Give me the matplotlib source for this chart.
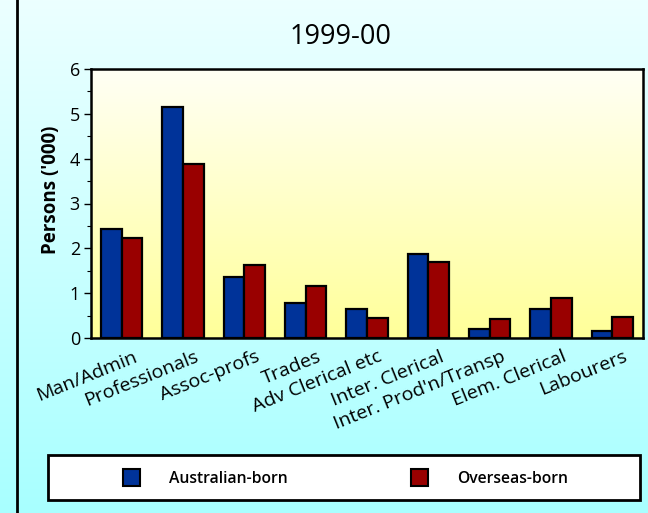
#!/usr/bin/env python3
import numpy as np
import matplotlib
matplotlib.use("Agg")
import matplotlib.pyplot as plt
from matplotlib.lines import Line2D
from matplotlib.patches import Rectangle
from matplotlib.colors import LinearSegmentedColormap
from matplotlib.transforms import ScaledTranslation

# occupation groups and persons ('000), 1999-00
categories = ["Man/Admin", "Professionals", "Assoc-profs", "Trades",
              "Adv Clerical etc", "Inter. Clerical", "Inter. Prod'n/Transp",
              "Elem. Clerical", "Labourers"]
australian_born = [2.44, 5.15, 1.35, 0.77, 0.64, 1.88, 0.20, 0.64, 0.16]
overseas_born = [2.23, 3.89, 1.62, 1.15, 0.45, 1.70, 0.42, 0.89, 0.46]
series_names = ["Australian-born", "Overseas-born"]
y_ticks = [0, 1, 2, 3, 4, 5, 6]

BLUE = "#003399"
RED = "#990000"

plt.rcParams["font.family"] = ["Open Sans", "DejaVu Sans"]


def gradient(ax, top, bottom, extent=None, zorder=0):
    """vertical colour gradient from top colour to bottom colour"""
    cmap = LinearSegmentedColormap.from_list("g", [bottom, top])
    grad = np.linspace(0, 1, 256).reshape(-1, 1)
    ax.imshow(grad, cmap=cmap, origin="lower", aspect="auto",
              extent=extent, zorder=zorder, interpolation="bilinear")


def main():
    fig = plt.figure(figsize=(6.48, 5.13), dpi=100)

    # figure background
    bg = fig.add_axes([0, 0, 1, 1], zorder=-10)
    gradient(bg, "#ecffff", "#a8ffff", extent=(0, 1, 0, 1))
    bg.set_xlim(0, 1)
    bg.set_ylim(0, 1)
    bg.axis("off")
    bg.add_line(Line2D([17 / 648, 17 / 648], [0, 1], color="black", lw=2))

    ax = fig.add_axes([91 / 648, 1 - 338 / 513, 552 / 648, 269 / 513])
    ax.set_facecolor("none")
    n = len(categories)
    x = np.arange(n)
    w = 0.335

    gradient(ax, "#fffff5", "#ffff99", extent=(-0.5, n - 0.5, 0, 6), zorder=0)

    ax.bar(x - w / 2, australian_born, w, color=BLUE, edgecolor="black",
           linewidth=1.6, zorder=2, label=series_names[0])
    ax.bar(x + w / 2, overseas_born, w, color=RED, edgecolor="black",
           linewidth=1.6, zorder=2, label=series_names[1])

    ax.set_xlim(-0.5, n - 0.5)
    ax.set_ylim(0, 6)
    ax.set_yticks(y_ticks)
    ax.set_yticks(np.arange(0.5, 6, 1), minor=True)
    ax.tick_params(axis="y", which="major", length=5, width=1,
                   labelsize=13, pad=3)
    ax.tick_params(axis="y", which="minor", length=3, width=0.8)
    ax.set_xticks(x)
    ax.set_xticklabels(categories, rotation=22, ha="right",
                       rotation_mode="anchor", fontsize=14)
    ax.tick_params(axis="x", length=0, pad=7)
    shift = ScaledTranslation(11 / 100, 0, fig.dpi_scale_trans)
    for lab in ax.get_xticklabels():
        lab.set_transform(lab.get_transform() + shift)
    for s in ax.spines.values():
        s.set_linewidth(1.8)
    ax.set_ylabel("Persons ('000)", fontsize=13.5, fontweight="bold")
    ax.yaxis.set_label_coords(-0.055, 0.55)

    fig.text(341 / 648, 1 - 37 / 513, "1999-00", ha="center", va="center",
             fontsize=19.5)

    # legend box
    bg.add_patch(Rectangle((48 / 648, 1 - 500 / 513), 592 / 648, 45 / 513,
                           facecolor="white", edgecolor="black", lw=2))
    for mx, tx, col, name in [(132, 169, BLUE, series_names[0]),
                              (420, 457, RED, series_names[1])]:
        bg.add_patch(Rectangle(((mx - 9) / 648, 1 - 486 / 513), 17 / 648,
                               17 / 513, facecolor=col, edgecolor="black",
                               lw=1.5))
        bg.text(tx / 648, 1 - 479 / 513, name, ha="left", va="center",
                fontsize=11.3, fontweight="semibold")

    fig.savefig("out.png", dpi=100)


if __name__ == "__main__":
    main()
